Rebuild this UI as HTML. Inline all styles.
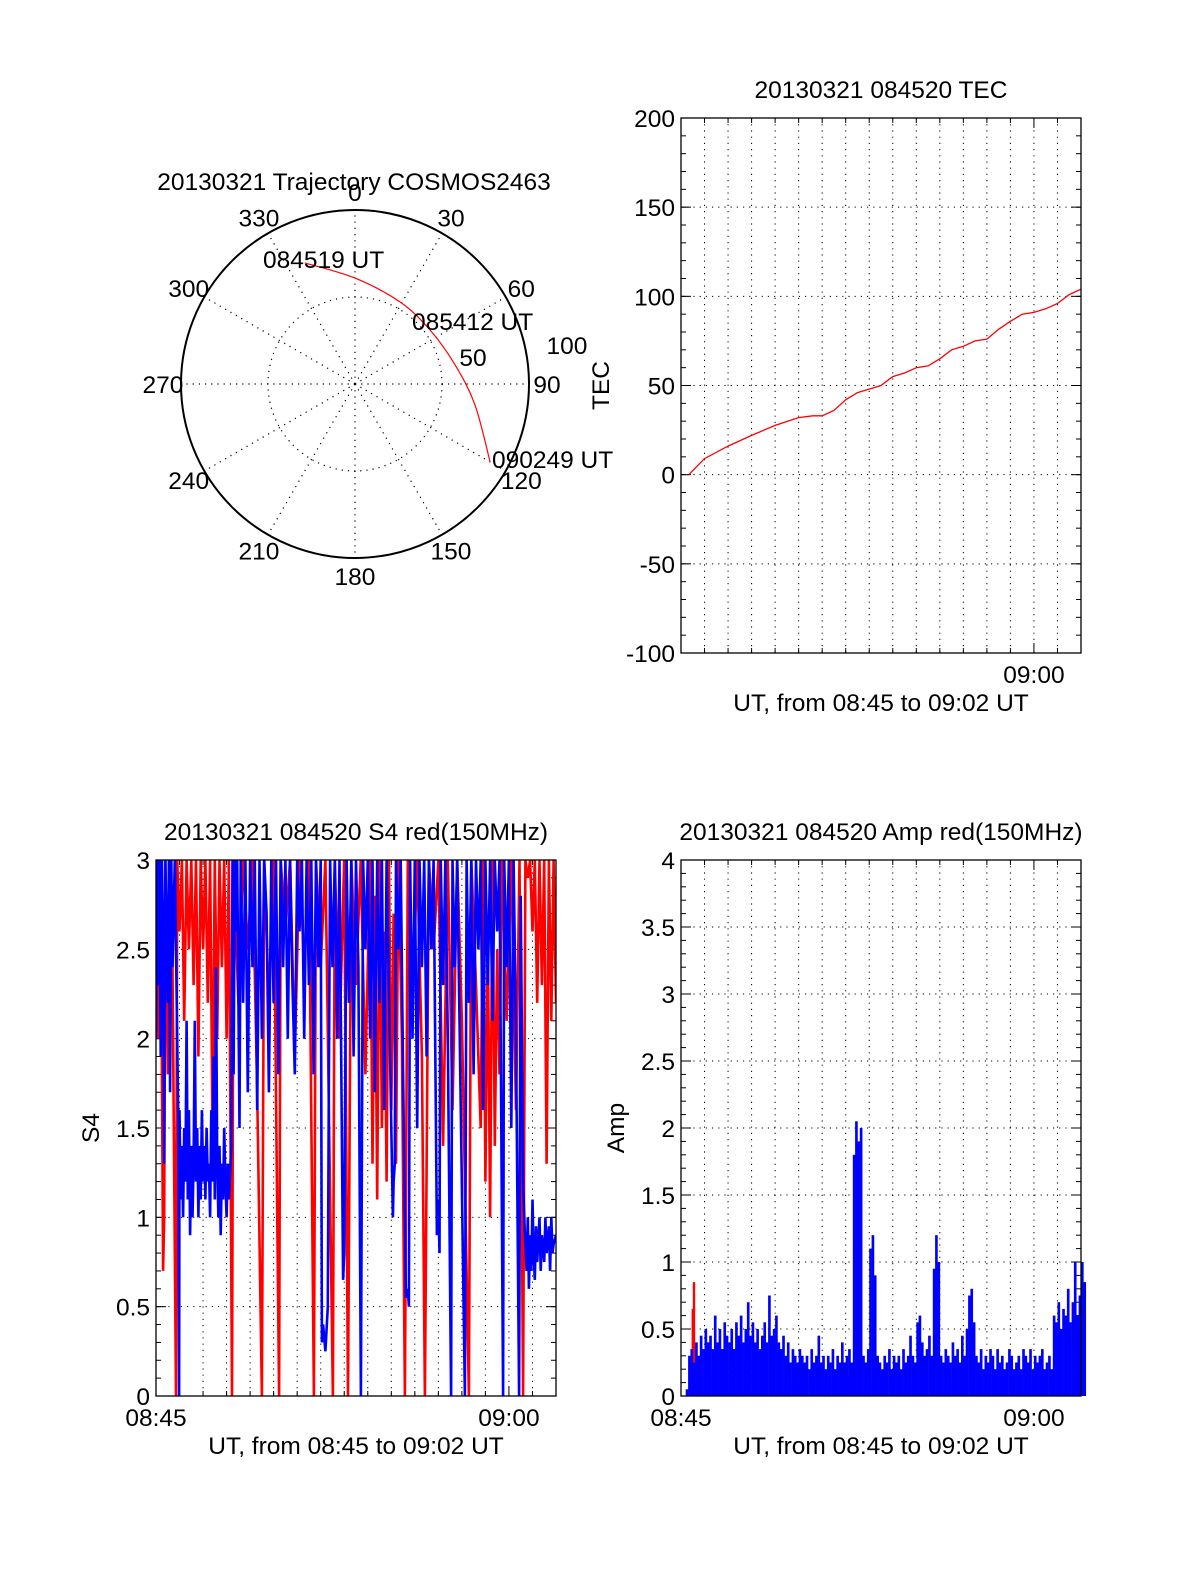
<!DOCTYPE html>
<html><head><meta charset="utf-8">
<style>
html,body{margin:0;padding:0;background:#fff;}
svg{display:block;font-family:"Liberation Sans",sans-serif;}
text{font-size:24.5px;fill:#000;}
</style></head>
<body>
<svg id="fig" width="1200" height="1575" viewBox="0 0 1200 1575" xmlns="http://www.w3.org/2000/svg">
<g id="polar"></g>
<g id="tec"></g>
<g id="s4"></g>
<g id="amp"></g>
</svg>
<script>
// ---- TEC data ----
const tecTimes = [0.33,1,2,3,4,5,5.6,6,6.5,7,7.5,8,8.5,9,9.5,10,10.5,11,11.5,12,12.5,13,13.5,14,14.5,15,15.5,16,16.5,17];
const tecValues = [0,9,16,22,27.6,32,33,33,36,42,46,48,50,55,57,60,61,65,70,72,75,76,81.5,86,90,91,93,96,101,104];
const tecTicks = ["200","150","100","50","0","-50","-100"];
// ---- S4 data ----
const s4BlueT = [0,0.05,0.1,0.15,0.2,0.25,0.3,0.35,0.4,0.5,0.55,0.6,0.65,0.7,0.8,0.9,0.95,0.98,1.0,1.05,1.1,1.15,1.2,1.25,1.3,1.35,1.4,1.45,1.5,1.55,1.6,1.65,1.7,1.75,1.8,1.85,1.9,1.95,2.0,2.05,2.1,2.15,2.2,2.25,2.3,2.35,2.4,2.45,2.5,2.55,2.6,2.65,2.7,2.75,2.8,2.85,2.9,2.95,3.0,3.05,3.1,3.15,3.2,3.25,3.3,3.35,3.4,3.45,3.55,3.6,3.7,3.8,3.9,4.0,4.1,4.2,4.3,4.4,4.5,4.6,4.7,4.8,4.9,5.0,5.1,5.2,5.3,5.4,5.5,5.6,5.7,5.8,5.9,6.0,6.1,6.2,6.3,6.4,6.5,6.6,6.7,6.8,6.9,7.0,7.05,7.1,7.2,7.3,7.35,7.4,7.5,7.6,7.7,7.8,7.95,8.0,8.1,8.2,8.3,8.4,8.5,8.6,8.71,8.8,8.9,9.0,9.1,9.2,9.3,9.4,9.5,9.6,9.7,9.8,9.9,10.0,10.07,10.1,10.15,10.2,10.3,10.4,10.5,10.62,10.7,10.75,10.8,10.9,11.0,11.1,11.2,11.3,11.4,11.5,11.6,11.7,11.8,11.94,12.0,12.05,12.1,12.2,12.3,12.4,12.54,12.6,12.7,12.8,13.13,13.2,13.3,13.4,13.5,13.6,13.7,13.8,13.9,14.0,14.1,14.2,14.3,14.4,14.5,14.6,14.75,14.8,14.9,15.0,15.1,15.2,15.3,15.43,15.5,15.6,15.68,15.75,15.8,15.85,15.9,15.95,16.0,16.05,16.1,16.15,16.2,16.3,16.35,16.4,16.5,16.55,16.6,16.7,16.75,16.8,16.85,16.9,17.0];
const s4BlueV = [2.0,3,2.3,3,1.9,3,2.6,1.3,3,2.2,3,1.7,3,2.4,3,2.0,1.5,0,1.6,1.1,1.4,1.0,1.5,1.2,2.1,1.1,1.6,0.9,1.4,1.0,1.3,2.1,1.2,1.5,1.0,1.4,1.1,1.6,1.2,1.4,1.1,1.5,1.2,1.3,1.0,1.6,1.2,1.9,1.1,2.4,1.3,1.0,1.4,0.9,1.3,1.1,1.5,1.2,1.0,1.3,1.1,1.25,1.4,3,1.8,3,2.6,3,1.5,3,2.2,3,1.7,3,2.4,3,1.6,3,2.0,3,2.7,1.7,3,2.2,3,1.8,3,2.4,3,2.0,3,2.3,1.8,3,2.6,3,2.0,3,2.3,3,1.8,3,2.4,3,0.3,0.4,0.25,0.5,1.8,3,2.4,3,2.0,3,0.65,0.8,3,2.2,3,1.9,3,2.4,0,3,2.5,3,2.0,3,1.7,3,2.2,3,1.6,3,2.3,1.5,1.0,1.2,1.3,3,2.5,3,1.8,0.55,0.6,0.5,3,2.0,3,1.5,3,2.4,3,1.9,3,2.5,3,0.9,1.1,0.8,3,2.3,3,2.0,0,3,2.4,3,0,3,2.2,3,1.8,3,2.5,3,1.6,3,2.3,3,2.1,3,2.6,3,0,3,2.4,3,1.5,3,2.0,0,2.8,1.2,0.9,0.7,1.0,0.6,0.9,0.7,1.1,0.8,0.65,0.95,0.75,1.0,0.7,0.9,0.75,1.0,0.8,0.95,0.7,1.0,0.8,0.85,0.9];
const s4RedT = [0,0.1,0.2,0.3,0.35,0.4,0.5,0.6,0.7,0.85,0.9,1.0,1.1,1.2,1.3,1.4,1.5,1.6,1.7,1.8,1.9,2.0,2.1,2.2,2.3,2.4,2.5,2.6,2.7,2.8,2.9,3.0,3.1,3.23,3.3,3.5,3.7,3.9,4.1,4.3,4.5,4.6,4.8,5.0,5.23,5.3,5.5,5.7,5.9,6.1,6.3,6.5,6.71,6.8,7.0,7.2,7.52,7.6,7.8,8.0,8.16,8.3,8.5,8.7,8.9,9.1,9.2,9.3,9.4,9.5,9.6,9.7,9.8,9.9,10.0,10.1,10.2,10.3,10.45,10.58,10.7,10.9,11.1,11.3,11.43,11.6,11.8,12.0,12.2,12.4,12.6,12.8,13.0,13.3,13.4,13.6,13.8,13.9,14.0,14.1,14.2,14.3,14.4,14.5,14.6,14.7,14.9,15.1,15.3,15.45,15.6,15.7,15.8,15.9,16.0,16.1,16.2,16.3,16.4,16.5,16.6,16.7,16.8,16.9,17.0];
const s4RedV = [3,2.0,3,0.7,1.0,3,1.8,3,2.4,0,3,2.6,3,2.1,3,2.5,3,2.3,3,1.9,3,2.5,3,2.2,3,1.5,3,2.0,3,2.4,3,2.0,3,0,3,2.2,3,2.5,3,1.7,0,3,2.2,3,0,3,2.6,3,1.9,3,2.4,3,0,3,2.4,3,0,3,2.0,3,0,3,2.3,3,1.8,3,1.3,2.8,1.1,3,1.5,2.6,1.2,3,1.6,2.7,1.3,3,2.0,0,3,2.2,3,1.9,0,3,2.5,3,1.4,3,1.6,3,2.1,0,3,2.3,1.5,3,1.2,2.6,1.0,3,1.4,2.5,1.8,3,2.1,3,1.6,3,0,3,2.9,3,2.6,3,2.2,3,2.3,3,1.3,3,2.1,3,2.2];
const s4Ticks = ["3","2.5","2","1.5","1","0.5","0"];
// ---- Amp data (step 0.1 min) ----
const ampBlue = [0.05,0.3,0.35,0.25,0.4,0.3,0.45,0.35,0.5,0.4,
0.45,0.35,0.6,0.4,0.5,0.35,0.55,0.45,0.4,0.5,
0.35,0.55,0.45,0.6,0.4,0.5,0.7,0.45,0.55,0.4,
0.5,0.35,0.45,0.55,0.4,0.75,0.45,0.5,0.6,0.4,
0.35,0.45,0.3,0.4,0.25,0.35,0.3,0.25,0.35,0.3,
0.25,0.3,0.2,0.35,0.25,0.3,0.45,0.25,0.3,0.2,
0.3,0.25,0.35,0.2,0.3,0.25,0.4,0.25,0.3,0.35,
0.25,1.8,2.05,1.9,2.0,0.3,0.25,0.35,1.1,1.2,
0.9,0.3,0.25,0.2,0.3,0.25,0.35,0.2,0.3,0.25,
0.3,0.2,0.35,0.25,0.3,0.45,0.3,0.25,0.55,0.6,
0.4,0.3,0.35,0.45,0.3,0.95,1.2,1.0,0.3,0.25,
0.35,0.3,0.25,0.4,0.3,0.35,0.25,0.45,0.3,0.5,
0.75,0.8,0.55,0.3,0.25,0.35,0.2,0.3,0.25,0.35,
0.3,0.2,0.35,0.25,0.3,0.2,0.25,0.35,0.3,0.2,
0.25,0.3,0.2,0.35,0.3,0.25,0.35,0.2,0.3,0.25,
0.3,0.35,0.2,0.25,0.3,0.2,0.6,0.55,0.7,0.5,
0.65,0.6,0.8,0.55,0.7,1.0,0.6,0.75,1.0,0.85];
const ampRedT = [0.45,0.5,7.1,7.2,7.3,7.85,10.7];
const ampRedV = [0.65,0.85,0.15,0.15,0.15,0.1,0.1];
const ampTicks = ["4","3.5","3","2.5","2","1.5","1","0.5","0"];
// ---- Trajectory ----
const trajAz = [337.5,0,28.8,54.2,79.2,99.9,120];
const trajEl = [22.2,35.2,41.6,42.2,37.3,27,9.3];
const azLabels = ["0","30","60","90","120","150","180","210","240","270","300","330"];

const NS="http://www.w3.org/2000/svg";
function mk(parent,tag,attrs,name,txt){
  const e=document.createElementNS(NS,tag);
  for(const k in attrs) e.setAttribute(k,attrs[k]);
  
  
  if(txt!==undefined) e.textContent=txt;
  parent.appendChild(e); return e;
}
const DOT="1.2 5";

function frame(g,x0,y0,x1,y1,ymin,ymax,ticks,minorStep,title,ylabel,ylx,showStart){
  const sx=t=>x0+(x1-x0)*t/17;
  const sy=v=>y1-(y1-y0)*(v-ymin)/(ymax-ymin);
  for(let m=1;m<17;m++){
    mk(g,'line',{x1:sx(m),x2:sx(m),y1:y0,y2:y1,stroke:'#000','stroke-width':1,'stroke-dasharray':DOT},'x-grid-line');
    mk(g,'line',{x1:sx(m),x2:sx(m),y1:y1,y2:y1-(m===15?10:5),stroke:'#000','stroke-width':1},'x-tick');
    mk(g,'line',{x1:sx(m),x2:sx(m),y1:y0,y2:y0+(m===15?10:5),stroke:'#000','stroke-width':1},'x-tick');
  }
  const nmaj=ticks.length;
  for(let i=0;i<nmaj;i++){
    const v=parseFloat(ticks[i]);const y=sy(v);
    if(i>0&&i<nmaj-1) mk(g,'line',{x1:x0,x2:x1,y1:y,y2:y,stroke:'#000','stroke-width':1,'stroke-dasharray':DOT},'y-grid-line');
    mk(g,'line',{x1:x0,x2:x0+10,y1:y,y2:y,stroke:'#000','stroke-width':1},'y-tick');
    mk(g,'line',{x1:x1,x2:x1-10,y1:y,y2:y,stroke:'#000','stroke-width':1},'y-tick');
    mk(g,'text',{x:x0-6,y:y+9,'text-anchor':'end'},'y-tick-label',ticks[i]);
  }
  for(let v=ymin;v<=ymax+1e-9;v+=minorStep){
    const y=sy(v);
    mk(g,'line',{x1:x0,x2:x0+5,y1:y,y2:y,stroke:'#000','stroke-width':1},'y-minor-tick');
    mk(g,'line',{x1:x1,x2:x1-5,y1:y,y2:y,stroke:'#000','stroke-width':1},'y-minor-tick');
  }
  mk(g,'text',{x:(x0+x1)/2,y:y0-20,'text-anchor':'middle'},'plot-title',title);
  mk(g,'text',{x:sx(15),y:y1+30,'text-anchor':'middle'},'x-tick-label','09:00');
  if(showStart) mk(g,'text',{x:x0,y:y1+30,'text-anchor':'middle'},'x-tick-label','08:45');
  mk(g,'text',{x:(x0+x1)/2,y:y1+58,'text-anchor':'middle'},'x-axis-title','UT, from 08:45 to 09:02 UT');
  mk(g,'text',{x:ylx,y:(y0+y1)/2,'text-anchor':'middle',transform:`rotate(-90 ${ylx} ${(y0+y1)/2})`},'y-axis-title',ylabel);
  return {sx,sy,border:()=>mk(g,'rect',{x:x0,y:y0,width:x1-x0,height:y1-y0,fill:'none',stroke:'#000','stroke-width':1.3},'plot-frame')};
}

// TEC
(function(){
  const g=document.getElementById('tec');
  const f=frame(g,681,118,1081,653,-100,200,tecTicks,10,'20130321 084520 TEC','TEC',609,false);
  const pts=tecTimes.map((t,i)=>f.sx(t).toFixed(1)+','+f.sy(tecValues[i]).toFixed(1)).join(' ');
  mk(g,'polyline',{points:pts,fill:'none',stroke:'#f00','stroke-width':1.3},'tec-line');
  f.border();
})();

// S4
(function(){
  const g=document.getElementById('s4');
  const f=frame(g,156,860,556,1396,0,3,s4Ticks,0.1,'20130321 084520 S4 red(150MHz)','S4',99,true);
  const clip=mk(g,'clipPath',{id:'s4clip'},'s4-clip');
  mk(clip,'rect',{x:156,y:860,width:400,height:536},'s4-clip-rect');
  const r=s4RedT.map((t,i)=>f.sx(t).toFixed(1)+','+f.sy(s4RedV[i]).toFixed(1)).join(' ');
  mk(g,'polyline',{points:r,fill:'none',stroke:'#f00','stroke-width':2.6,'clip-path':'url(#s4clip)'},'s4-red-line');
  const b=s4BlueT.map((t,i)=>f.sx(t).toFixed(1)+','+f.sy(s4BlueV[i]).toFixed(1)).join(' ');
  mk(g,'polyline',{points:b,fill:'none',stroke:'#00f','stroke-width':2.6,'clip-path':'url(#s4clip)'},'s4-blue-line');
  f.border();
})();

// Amp
(function(){
  const g=document.getElementById('amp');
  const f=frame(g,681,860,1081,1396,0,4,ampTicks,0.1,'20130321 084520 Amp red(150MHz)','Amp',624,true);
  ampRedT.forEach((t,i)=>{
    mk(g,'rect',{x:f.sx(t).toFixed(1),y:f.sy(ampRedV[i]).toFixed(1),width:2.4,height:(f.sy(0)-f.sy(ampRedV[i])).toFixed(1),fill:'#f00'},'amp-red-bar');
  });
  const w=(f.sx(0.1)-f.sx(0))+0.3;
  ampBlue.forEach((v,i)=>{
    const t=i*0.1+0.2;
    mk(g,'rect',{x:f.sx(t).toFixed(1),y:f.sy(v).toFixed(1),width:w.toFixed(2),height:(f.sy(0)-f.sy(v)).toFixed(1),fill:'#00f'},'amp-blue-bar');
  });
  f.border();
})();

// Polar
(function(){
  const g=document.getElementById('polar');
  const cx=355,cy=384,R=174;
  mk(g,'text',{x:354,y:190,'text-anchor':'middle'},'plot-title','20130321 Trajectory COSMOS2463');
  mk(g,'circle',{cx,cy,r:R/2,fill:'none',stroke:'#000','stroke-width':1.2,'stroke-dasharray':DOT},'elevation-circle');
  azLabels.forEach((lab,i)=>{
    const a=i*30*Math.PI/180;
    mk(g,'line',{x1:cx,y1:cy,x2:cx+R*Math.sin(a),y2:cy-R*Math.cos(a),stroke:'#000','stroke-width':1.2,'stroke-dasharray':DOT},'azimuth-spoke');
    mk(g,'text',{x:cx+192*Math.sin(a),y:cy-192*Math.cos(a)+9,'text-anchor':'middle'},'azimuth-label',lab);
  });
  mk(g,'circle',{cx,cy,r:R,fill:'none',stroke:'#000','stroke-width':2},'outer-circle');
  mk(g,'text',{x:473,y:366,'text-anchor':'middle'},'radius-label','50');
  mk(g,'text',{x:567,y:354,'text-anchor':'middle'},'radius-label','100');
  const P=trajAz.map((az,i)=>{const r=R*(90-trajEl[i])/90,a=az*Math.PI/180;return [cx+r*Math.sin(a),cy-r*Math.cos(a)];});
  let d='M'+P[0][0].toFixed(1)+','+P[0][1].toFixed(1);
  for(let i=0;i<P.length-1;i++){
    const p0=P[Math.max(0,i-1)],p1=P[i],p2=P[i+1],p3=P[Math.min(P.length-1,i+2)];
    const c1=[p1[0]+(p2[0]-p0[0])/6,p1[1]+(p2[1]-p0[1])/6],c2=[p2[0]-(p3[0]-p1[0])/6,p2[1]-(p3[1]-p1[1])/6];
    d+=` C${c1[0].toFixed(1)},${c1[1].toFixed(1)} ${c2[0].toFixed(1)},${c2[1].toFixed(1)} ${p2[0].toFixed(1)},${p2[1].toFixed(1)}`;
  }
  mk(g,'path',{d,fill:'none',stroke:'#f00','stroke-width':1.2},'trajectory-line');
  mk(g,'text',{x:263,y:268},'start-time-label','084519 UT');
  mk(g,'text',{x:412,y:330},'mid-time-label','085412 UT');
  mk(g,'text',{x:492,y:468},'end-time-label','090249 UT');
})();
</script>
</body></html>
